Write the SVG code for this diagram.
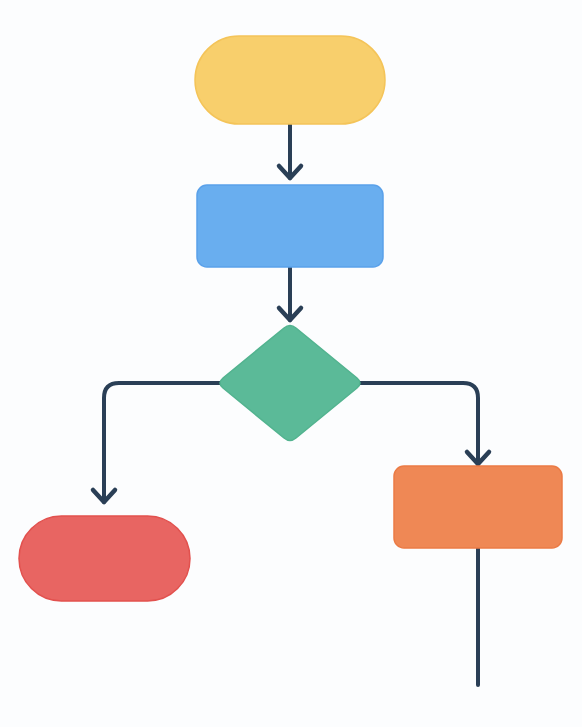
<svg xmlns="http://www.w3.org/2000/svg" width="582" height="727" viewBox="0 0 582 727">
  <style>
    .edge { fill: none; stroke: #2a3f56; stroke-width: 4; stroke-linecap: round; stroke-linejoin: round; }
    .head { fill: none; stroke: #2a3f56; stroke-width: 4.5; stroke-linecap: round; stroke-linejoin: round; }
    .node { stroke-width: 1.5; }
  </style>
  <defs>
    <marker id="chev" markerUnits="userSpaceOnUse" markerWidth="34" markerHeight="34" viewBox="-17 -17 34 34" refX="0" refY="0" orient="auto" overflow="visible">
      <path class="head" d="M-12,-11 L0,0 L-12,11"/>
    </marker>
  </defs>
  <rect width="582" height="727" fill="#fcfdfe"/>

  <g id="connectors">
    <path class="edge" d="M290,124 L290,178" marker-end="url(#chev)"/>
    <path class="edge" d="M290,267 L290,320" marker-end="url(#chev)"/>
    <path class="edge" d="M221,383 L119,383 Q104,383 104,398 L104,502" marker-end="url(#chev)"/>
    <path class="edge" d="M359,383 L463,383 Q478,383 478,398 L478,464" marker-end="url(#chev)"/>
    <path class="edge" d="M478,548 L478,685"/>
  </g>

  <g id="start">
    <rect class="node" x="195" y="36" width="190" height="88" rx="44" fill="#f8cf6c" stroke="#f4c459"/>
  </g>
  <g id="process">
    <rect class="node" x="197" y="185" width="186" height="82" rx="10" fill="#69aeef" stroke="#5aa1ea"/>
  </g>
  <g id="decision">
    <path class="node" d="M284,328 Q290,323 296,328 L357,378 Q363,383 357,388 L296,438 Q290,443 284,438 L223,388 Q217,383 223,378 Z" fill="#5bba98" stroke="#52b38f"/>
  </g>
  <g id="end-no">
    <rect class="node" x="19" y="516" width="171" height="85" rx="42.5" fill="#e86562" stroke="#e2514e"/>
  </g>
  <g id="action">
    <rect class="node" x="394" y="466" width="168" height="82" rx="10" fill="#ef8855" stroke="#eb7b45"/>
  </g>
</svg>
